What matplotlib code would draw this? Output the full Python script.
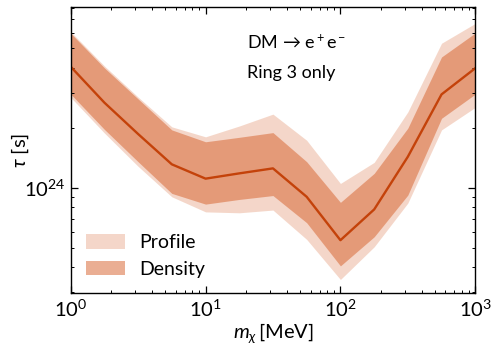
import numpy as np
import matplotlib
matplotlib.use("Agg")
import matplotlib.pyplot as plt
from matplotlib.ticker import LogLocator, NullFormatter

plt.rcParams['font.family'] = ['Lato', 'DejaVu Sans']
plt.rcParams['mathtext.fontset'] = 'custom'
plt.rcParams['mathtext.rm'] = 'Lato'
plt.rcParams['mathtext.it'] = 'Lato:italic'
plt.rcParams['mathtext.bf'] = 'Lato:bold'

# masses [MeV]
mass = [1.0, 1.78, 3.16, 5.62, 10.0, 17.8, 31.6, 56.2, 100.0, 178.0, 316.0, 562.0, 1000.0]
# lifetimes in units of 1e24 s
tau_median = [4.05, 2.67, 1.86, 1.31, 1.11, 1.18, 1.25, 0.90, 0.545, 0.778, 1.43, 2.94, 3.98]
density_hi = [5.96, 3.99, 2.79, 1.95, 1.70, 1.79, 1.89, 1.35, 0.844, 1.18, 1.99, 4.53, 5.98]
density_lo = [2.95, 1.96, 1.35, 0.936, 0.827, 0.873, 0.913, 0.667, 0.405, 0.567, 0.918, 2.23, 2.95]
profile_hi = [6.07, 4.08, 2.85, 2.02, 1.80, 2.04, 2.34, 1.73, 1.05, 1.34, 2.40, 5.31, 6.68]
profile_lo = [2.84, 1.88, 1.28, 0.90, 0.756, 0.748, 0.772, 0.55, 0.346, 0.505, 0.837, 1.95, 2.53]

scale = 1e24
m = np.array(mass)

fig = plt.figure(figsize=(4.98, 3.48), dpi=100)
ax = fig.add_axes([70.7/498, 1-293.3/348, (475.3-70.7)/498, (293.3-6.7)/348])

base = '#D65F28'
ax.fill_between(m, np.array(profile_lo)*scale, np.array(profile_hi)*scale,
                color=base, alpha=0.25, lw=0, label='Profile')
ax.fill_between(m, np.array(density_lo)*scale, np.array(density_hi)*scale,
                color=base, alpha=0.5, lw=0, label='Density')
ax.plot(m, np.array(tau_median)*scale, color='#C4420A', lw=1.7)

ax.set_xscale('log')
ax.set_yscale('log')
ax.set_xlim(1, 1000)
ax.set_ylim(2.95e23, 8.1e24)

ax.yaxis.set_minor_locator(LogLocator(base=10, subs=np.arange(2, 10)))
ax.yaxis.set_minor_formatter(NullFormatter())
ax.xaxis.set_minor_formatter(NullFormatter())

ax.tick_params(which='both', direction='in', top=True, right=True, labelsize=14.5)
ax.tick_params(which='major', length=5, width=0.9, pad=4)
ax.tick_params(which='minor', length=2.5, width=0.7)
for s in ax.spines.values():
    s.set_linewidth(1.0)

ax.set_xlabel(r'$m_\chi\,$[MeV]', fontsize=14.5, labelpad=1)
ax.set_ylabel(r'$\tau$ [s]', fontsize=14.5)
ax.yaxis.set_label_coords((31 - 70.7) / 404.6, 0.5)

fig.text(247/498, 1-42/348, 'DM → e$^+$e$^-$',
         fontsize=13, va='center', ha='left')
fig.text(247/498, 1-73/348, 'Ring 3 only',
         fontsize=13, va='center', ha='left')

ax.legend(loc='lower left', frameon=False, fontsize=14, handlelength=2.0,
          handleheight=0.75, labelspacing=0.5, handletextpad=0.75,
          bbox_to_anchor=(-0.005, -0.008))

fig.savefig('out.png', dpi=100)
